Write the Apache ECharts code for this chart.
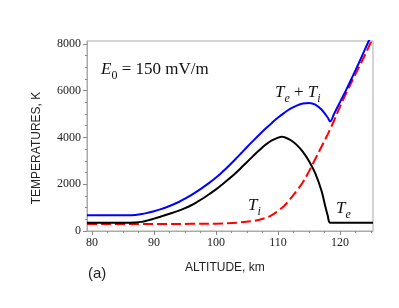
<!DOCTYPE html>
<html>
<head>
<meta charset="utf-8">
<script src="https://cdn.jsdelivr.net/npm/echarts@6/dist/echarts.min.js"></script>
<style>html,body{margin:0;padding:0;background:#fff}#c{width:399px;height:308px}</style>
</head>
<body>
<div id="c"></div>
<script>
// Altitude (km) and temperatures (K)
const altTe = [79.2, 80, 82, 84, 86, 87, 88, 89, 90, 91, 92, 93, 94, 95, 96, 97, 98, 99, 100, 101, 102, 103, 104, 105, 106, 107, 108, 109, 110, 110.6, 111, 112, 113, 114, 115, 116, 117, 117.5, 118, 118.4, 120, 122, 124, 125.3];
const Te    = [355, 355, 355, 355, 355, 362, 390, 455, 530, 610, 695, 780, 870, 975, 1100, 1250, 1410, 1590, 1780, 1990, 2210, 2440, 2690, 2950, 3210, 3460, 3690, 3870, 3990, 4030, 4010, 3890, 3680, 3380, 2980, 2460, 1720, 1180, 660, 355, 355, 355, 355, 355];

const altTi = [79.2, 80, 84, 88, 92, 96, 100, 102, 104, 106, 107, 108, 109, 110, 111, 112, 113, 114, 115, 116, 117, 118, 119, 120, 121, 122, 123, 124, 125, 125.3];
const Ti    = [300, 300, 300, 300, 300, 305, 315, 330, 370, 430, 480, 560, 680, 860, 1080, 1380, 1720, 2080, 2560, 3080, 3600, 4130, 4700, 5330, 5900, 6450, 6980, 7520, 8090, 8270];

const altSum = [79.2, 80, 82, 84, 86, 87, 88, 89, 90, 91, 92, 93, 94, 95, 96, 97, 98, 99, 100, 101, 102, 103, 104, 105, 106, 107, 108, 109, 110, 111, 112, 113, 114, 115, 116, 117, 118, 118.4, 119, 120, 121, 122, 123, 124, 125, 125.3];
const TeTi   = [672, 672, 672, 672, 672, 688, 722, 778, 845, 925, 1015, 1120, 1240, 1380, 1535, 1705, 1885, 2080, 2285, 2520, 2770, 3035, 3310, 3590, 3860, 4125, 4380, 4620, 4850, 5050, 5225, 5355, 5445, 5475, 5405, 5190, 4850, 4680, 4990, 5520, 6040, 6600, 7170, 7760, 8350, 8530];

const xMajor = [80, 90, 100, 110, 120];
const xMinor = [82.5, 85, 87.5, 92.5, 95, 97.5, 102.5, 105, 107.5, 112.5, 115, 117.5, 122.5, 125];
const yMajor = [0, 2000, 4000, 6000, 8000];
const yMinor = [500, 1000, 1500, 2500, 3000, 3500, 4500, 5000, 5500, 6500, 7000, 7500];

const pairs = (xs, ys) => xs.map((x, i) => [x, ys[i]]);
const serif = '"Liberation Serif", "Times New Roman", serif';
const sans = '"Liberation Sans", Arial, sans-serif';

const chart = echarts.init(document.getElementById('c'));
const gridRect = { left: 87, top: 41, right: 26, bottom: 77 };
const axisCommon = {
  type: 'value',
  axisLine: { show: true, lineStyle: { color: '#aaa', width: 1 } },
  splitLine: { show: false }
};
const subRich = {
  i: { fontFamily: serif, fontStyle: 'italic', fontSize: 17, lineHeight: 20, verticalAlign: 'bottom', fill: '#111' },
  s: { fontFamily: serif, fontStyle: 'italic', fontSize: 12, lineHeight: 14, verticalAlign: 'bottom', padding: [0, 0, -4, 0], fill: '#111' },
  d: { fontFamily: serif, fontSize: 12, lineHeight: 14, verticalAlign: 'bottom', padding: [0, 0, -4, 0], fill: '#111' },
  n: { fontFamily: serif, fontSize: 17, lineHeight: 20, verticalAlign: 'bottom', fill: '#111' }
};
chart.setOption({
  animation: false,
  grid: Object.assign({ show: true, borderColor: '#aaa', borderWidth: 1 }, gridRect),
  xAxis: [
    Object.assign({}, axisCommon, {
      min: 79.2, max: 125.3,
      axisTick: { show: true, length: 4, customValues: xMajor, lineStyle: { color: '#888' } },
      axisLabel: { customValues: xMajor, margin: 6, color: '#222', fontFamily: serif, fontSize: 12,
                   formatter: v => String(v) }
    }),
    Object.assign({}, axisCommon, {
      min: 79.2, max: 125.3, position: 'bottom',
      axisLine: { show: false },
      axisTick: { show: true, length: 2, customValues: xMinor, lineStyle: { color: '#888' } },
      axisLabel: { show: false }
    })
  ],
  yAxis: [
    Object.assign({}, axisCommon, {
      min: 0, max: 8120,
      axisTick: { show: true, length: 4, customValues: yMajor, lineStyle: { color: '#888' } },
      axisLabel: { customValues: yMajor, margin: 6, color: '#222', fontFamily: serif, fontSize: 12,
                   formatter: v => String(v) }
    }),
    Object.assign({}, axisCommon, {
      min: 0, max: 8120, position: 'left',
      axisLine: { show: false },
      axisTick: { show: true, length: 2, customValues: yMinor, lineStyle: { color: '#888' } },
      axisLabel: { show: false }
    })
  ],
  series: [
    { type: 'line', data: pairs(altTi, Ti), smooth: 0.35, symbol: 'none', clip: true,
      lineStyle: { color: '#ff0000', width: 2, type: [10, 4] } },
    { type: 'line', data: pairs(altTe, Te), smooth: 0.35, symbol: 'none', clip: true,
      lineStyle: { color: '#000000', width: 2 } },
    { type: 'line', data: pairs(altSum, TeTi), smooth: 0.35, symbol: 'none', clip: true,
      lineStyle: { color: '#0000ff', width: 2 } }
  ],
  graphic: [
    { type: 'text', left: 185, top: 262, style: { text: 'ALTITUDE, km', font: '12px ' + sans, fill: '#222' } },
    { type: 'text', left: 88, top: 266, style: { text: '(a)', font: '15px ' + sans, fill: '#222' } },
    { type: 'text', x: 37, y: 148, rotation: Math.PI / 2,
      style: { text: 'TEMPERATURES, K', font: '12px ' + sans, fill: '#222', align: 'center', verticalAlign: 'middle' } },
    { type: 'text', x: 101, y: 58, style: { text: '{i|E}{d|0}{n| = 150 mV/m}', rich: subRich } },
    { type: 'text', x: 275, y: 81, style: { text: '{i|T}{s|e}{n| + }{i|T}{s|i}', rich: subRich } },
    { type: 'text', x: 248, y: 194, style: { text: '{i|T}{s|i}', rich: subRich } },
    { type: 'text', x: 336, y: 197, style: { text: '{i|T}{s|e}', rich: subRich } }
  ]
});
</script>
</body>
</html>
